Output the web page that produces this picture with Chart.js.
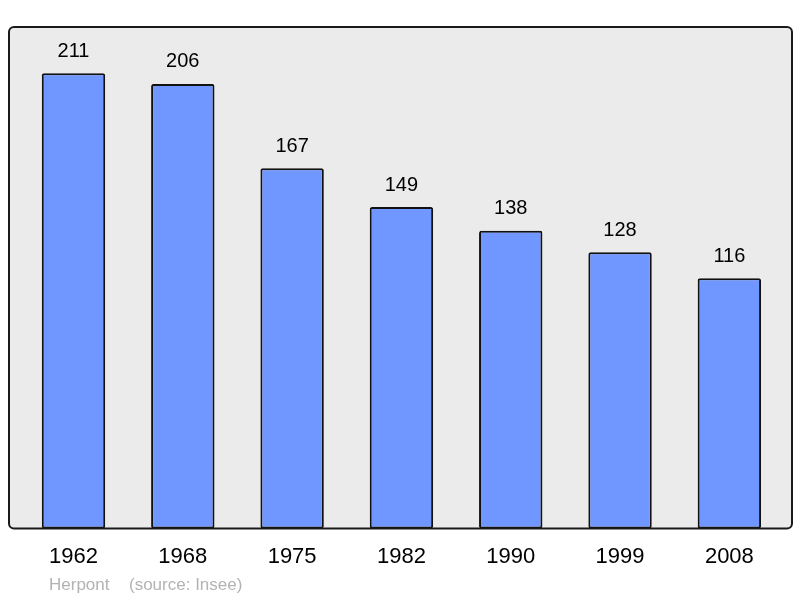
<!DOCTYPE html>
<html>
<head>
<meta charset="utf-8">
<script src="https://cdn.jsdelivr.net/npm/chart.js@4/dist/chart.umd.min.js"></script>
<style>
    html, body { margin: 0; padding: 0; background: #ffffff; }
    #wrap { width: 800px; height: 598px; position: relative; }
</style>
</head>
<body>
<div id="wrap"><canvas id="popChart" width="800" height="598"></canvas></div>
<script>
// Population data
const years = ['1962', '1968', '1975', '1982', '1990', '1999', '2008'];
const population = [211, 206, 167, 149, 138, 128, 116];
const placeName = 'Herpont';
const sourceText = '(source: Insee)';

const FONT = '"Liberation Sans", Arial, sans-serif';

// Grey plot background with rounded border
const plotFrame = {
    id: 'plotFrame',
    beforeDatasetsDraw(chart) {
        const a = chart.chartArea;
        const ctx = chart.ctx;
        ctx.save();
        ctx.beginPath();
        ctx.roundRect(a.left, a.top, a.right - a.left, a.bottom - a.top, 5);
        ctx.fillStyle = '#ebebeb';
        ctx.fill();
        ctx.restore();
    },
    afterDatasetsDraw(chart) {
        const a = chart.chartArea;
        const ctx = chart.ctx;
        ctx.save();
        // value labels above bars
        const meta = chart.getDatasetMeta(0);
        ctx.font = '20px ' + FONT;
        ctx.fillStyle = '#000';
        ctx.textAlign = 'center';
        ctx.textBaseline = 'middle';
        meta.data.forEach((bar, i) => {
            ctx.fillText(String(population[i]), bar.x, bar.y - 22);
        });
        // frame
        ctx.beginPath();
        ctx.roundRect(a.left, a.top, a.right - a.left, a.bottom - a.top, 5);
        ctx.lineWidth = 2;
        ctx.strokeStyle = '#1a1a1a';
        ctx.stroke();
        // footer
        ctx.font = '17px ' + FONT;
        ctx.fillStyle = '#b3b3b3';
        ctx.textAlign = 'left';
        ctx.textBaseline = 'alphabetic';
        ctx.fillText(placeName, a.left + 40, 590);
        ctx.fillText(sourceText, a.left + 120, 590);
        ctx.restore();
    }
};

new Chart(document.getElementById('popChart'), {
    type: 'bar',
    data: {
        labels: years,
        datasets: [{
            data: population.map((v, i) => ({ x: i, y: v })),
            backgroundColor: '#7096ff',
            borderColor: '#111111',
            borderWidth: 2,
            borderRadius: 2,
            borderSkipped: false,
            barPercentage: 0.58,
            categoryPercentage: 1
        }]
    },
    options: {
        responsive: false,
        animation: false,
        devicePixelRatio: 1,
        layout: { padding: { left: 9, right: 8, top: 27, bottom: 13 } },
        plugins: {
            legend: { display: false },
            tooltip: { enabled: false }
        },
        scales: {
            x: {
                type: 'linear',
                offset: false,
                min: -0.59,
                max: 6.573,
                grid: { display: false, drawTicks: false },
                border: { display: false },
                afterBuildTicks(scale) {
                    scale.ticks = years.map((y, i) => ({ value: i }));
                },
                ticks: {
                    padding: 15,
                    color: '#000',
                    font: { family: FONT, size: 22 },
                    callback: (v) => years[v]
                }
            },
            y: {
                display: false,
                min: 0,
                max: 232.4
            }
        }
    },
    plugins: [plotFrame]
});
</script>
</body>
</html>
